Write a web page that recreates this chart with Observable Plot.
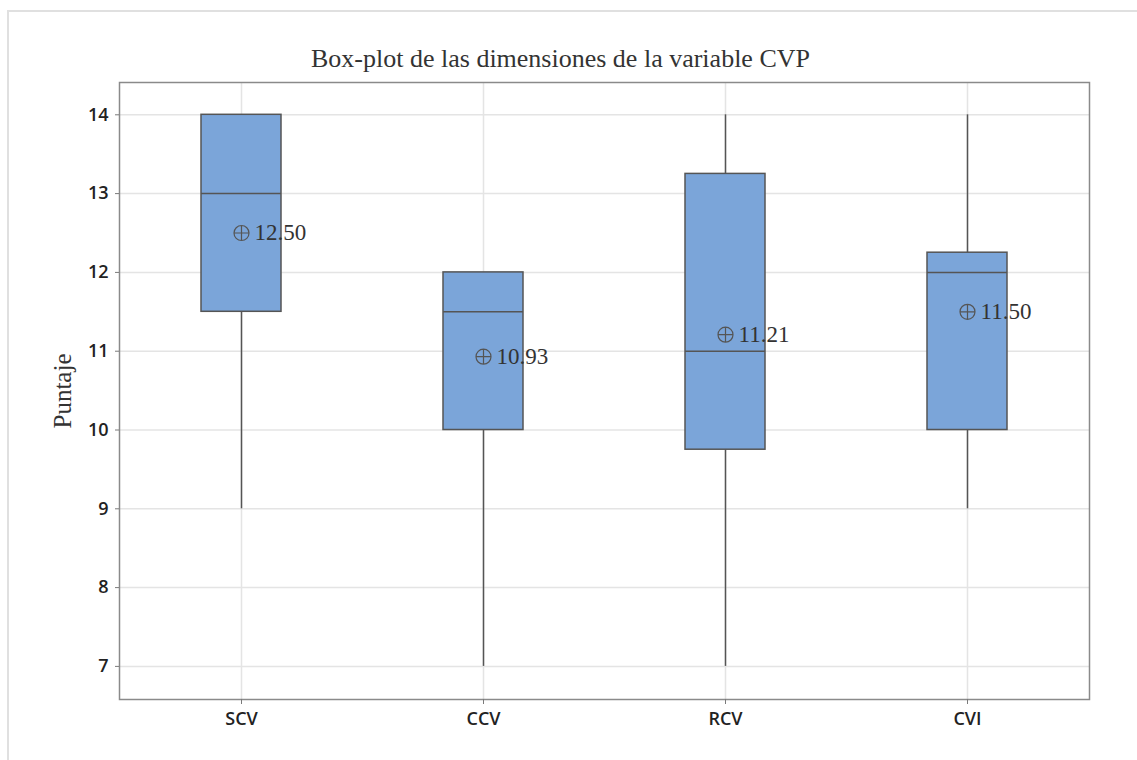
<!DOCTYPE html>
<html>
<head>
<meta charset="utf-8">
<script src="https://cdn.jsdelivr.net/npm/d3@7"></script>
<script src="https://cdn.jsdelivr.net/npm/@observablehq/plot@0.6"></script>
<style>
  html, body { margin: 0; padding: 0; background: #fff; }
  #wrap { position: relative; width: 1137px; height: 760px; overflow: hidden; }
  #border { position: absolute; left: 7px; top: 10px; width: 1200px; height: 800px;
            border-left: 2px solid #e0e0e0; border-top: 2px solid #e0e0e0; pointer-events: none; }
  #chart { position: absolute; left: 0; top: 0; }
</style>
</head>
<body>
<div id="wrap"><div id="chart"></div><div id="border"></div></div>
<script>
// Data
const categories = ["SCV", "CCV", "RCV", "CVI"];
const minimums   = [9, 7, 7, 9];
const q1s        = [11.5, 10, 9.75, 10];
const medians    = [13, 11.5, 11, 12];
const q3s        = [14, 12, 13.25, 12.25];
const maximums   = [14, 12, 14, 14];
const means      = [12.50, 10.93, 11.21, 11.50];
const yTicks     = [7, 8, 9, 10, 11, 12, 13, 14];

const titleText = "Box-plot de las dimensiones de la variable CVP";
const yLabel = "Puntaje";

const rows = categories.map((c, i) => ({
  cat: c, min: minimums[i], q1: q1s[i], med: medians[i], q3: q3s[i], max: maximums[i], mean: means[i]
}));

const circlePlus = {
  draw(context, size) {
    const r = Math.sqrt(size / Math.PI);
    context.moveTo(r, 0);
    context.arc(0, 0, r, 0, 2 * Math.PI);
    context.moveTo(-r, 0); context.lineTo(r, 0);
    context.moveTo(0, -r); context.lineTo(0, r);
  }
};

const boxFill = "#7ba5d9";
const edge = "#555555";
const inset = 81;
const serif = "'Liberation Serif', 'Times New Roman', serif";

const chart = Plot.plot({
  width: 1137,
  height: 760,
  marginTop: 82,
  marginLeft: 119,
  marginRight: 48,
  marginBottom: 61,
  style: { fontFamily: "'Open Sans', sans-serif", fontSize: "18px", fontWeight: 600, color: "#222", background: "transparent" },
  x: { domain: categories, padding: 0, label: null },
  y: { domain: [6.58, 14.41], label: null },
  marks: [
    Plot.gridY(yTicks, { stroke: "#e4e4e4", strokeOpacity: 1, strokeWidth: 1.5 }),
    Plot.gridX(categories, { stroke: "#e4e4e4", strokeOpacity: 1, strokeWidth: 1.5 }),
    Plot.ruleX(rows, { x: "cat", y1: "min", y2: "q1", stroke: edge, strokeWidth: 1.5 }),
    Plot.ruleX(rows, { x: "cat", y1: "q3", y2: "max", stroke: edge, strokeWidth: 1.5 }),
    Plot.barY(rows, { x: "cat", y1: "q1", y2: "q3", fill: boxFill, stroke: edge, strokeWidth: 1.5, insetLeft: inset, insetRight: inset }),
    Plot.tickY(rows, { x: "cat", y: "med", stroke: edge, strokeWidth: 1.5, insetLeft: inset, insetRight: inset }),
    Plot.dot(rows, { x: "cat", y: "mean", symbol: circlePlus, r: 7.5, stroke: "#555", strokeWidth: 1.2, fill: "none" }),
    Plot.text(rows, { x: "cat", y: "mean", text: d => d.mean.toFixed(2), dx: 13, textAnchor: "start",
      fontFamily: serif, fontSize: 23, fontWeight: 400, fill: "#333" }),
    Plot.frame({ stroke: "#8a8a8a", strokeWidth: 1.5 }),
    Plot.axisY(yTicks, { tickSize: 4, tickPadding: 7, stroke: "#7a7a7a", fill: "#222", label: null, tickFormat: d => String(d) }),
    Plot.axisX(categories, { tickSize: 5, tickPadding: 8, stroke: "#7a7a7a", fill: "#222", label: null }),
    Plot.text([titleText], { frameAnchor: "top", textAnchor: "middle", dy: -34, dx: -44, fontFamily: serif,
      fontSize: 26, fontWeight: 400, fill: "#333" }),
    Plot.text([yLabel], { frameAnchor: "left", textAnchor: "middle", dx: -57, rotate: -90, fontFamily: serif,
      fontSize: 25, fontWeight: 400, fill: "#333" })
  ]
});
document.getElementById("chart").appendChild(chart);
</script>
</body>
</html>
